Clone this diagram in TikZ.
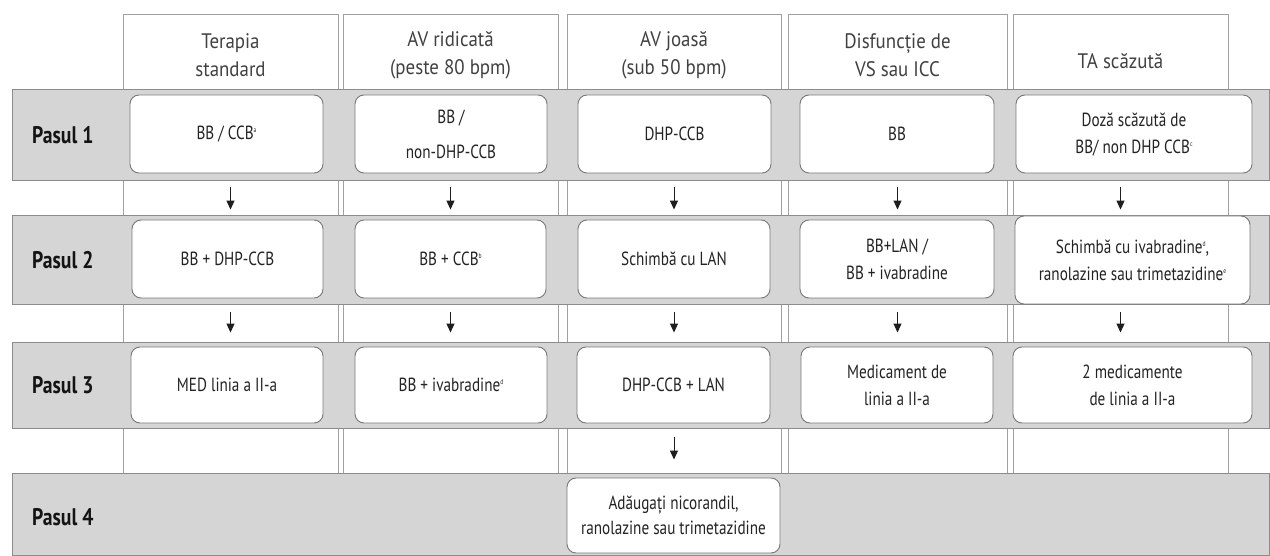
\documentclass[tikz,border=0pt]{standalone}
\usepackage{fontspec}
\setmainfont{PT Sans}
\newfontfamily\boxfont[FakeStretch=0.8]{PT Sans}
\newfontfamily\headfont[FakeStretch=0.9]{PT Sans}
\newfontfamily\stepfont[FakeStretch=0.82]{PT Sans}
\usetikzlibrary{arrows.meta}
\definecolor{bandfill}{RGB}{213,213,213}
\definecolor{bandline}{RGB}{140,140,140}
\definecolor{colline}{RGB}{160,160,160}
\definecolor{boxline}{RGB}{120,120,120}
\definecolor{boxtext}{RGB}{35,35,35}
\definecolor{headtxt}{RGB}{65,65,65}
\definecolor{steptxt}{RGB}{20,20,20}
\definecolor{arrowcol}{RGB}{30,30,30}
\newcommand\fnm[1]{\raisebox{0.7ex}{\fontsize{7}{7}\selectfont #1}}
\begin{document}
\begin{tikzpicture}[x=1pt,y=-1pt,
  colbox/.style={draw=colline, fill=white, line width=0.8pt, minimum height=459pt, inner sep=0pt},
  band/.style={draw=bandline, fill=bandfill, line width=0.8pt, inner sep=0pt, minimum width=1257pt},
  stepbox/.style={draw=boxline, fill=white, rounded corners=9pt, line width=0.9pt, inner sep=0pt, align=center, font=\boxfont\fontsize{19}{27}\selectfont, text=boxtext},
  headtext/.style={align=center, inner sep=0pt, font=\headfont\fontsize{21}{28}\selectfont, text=headtxt},
  steplabel/.style={anchor=west, inner sep=0pt, font=\stepfont\bfseries\fontsize{24}{28}\selectfont, text=steptxt},
  arr/.style={-{Triangle[width=8pt,length=9pt]}, line width=1pt, draw=arrowcol}]
\useasboundingbox (0,0) rectangle (1270,556);
% columns
\node[colbox, minimum width=215pt] (col1) at (230.5,243.5) {};
\node[colbox, minimum width=215pt] (col2) at (450.5,243.5) {};
\node[colbox, minimum width=214pt] (col3) at (674,243.5) {};
\node[colbox, minimum width=219pt] (col4) at (897.5,243.5) {};
\node[colbox, minimum width=215pt] (col5) at (1120.5,243.5) {};
% headers
\node[headtext] (h1) at (230.5,55) {Terapia\\standard};
\node[headtext] (h2) at (450.5,55) {AV ridicată\\(peste 80 bpm)};
\node[headtext] (h3) at (674,55) {AV joasă\\(sub 50 bpm)};
\node[headtext] (h4) at (897.5,55) {Disfuncție de\\VS sau ICC};
\node[headtext] (h5) at (1120.5,61) {TA scăzută};
% bands
\node[band, minimum height=91pt] (band1) at (640.5,134.5) {};
\node[band, minimum height=89pt] (band2) at (640.5,259.5) {};
\node[band, minimum height=86pt] (band3) at (640.5,385) {};
\node[band, minimum height=82pt] (band4) at (640.5,514) {};
% step labels
\node[steplabel] (s1) at (32,135) {Pasul 1};
\node[steplabel] (s2) at (32,260) {Pasul 2};
\node[steplabel] (s3) at (32,385) {Pasul 3};
\node[steplabel] (s4) at (32,517) {Pasul 4};
% step 1
\node[stepbox, minimum width=193pt, minimum height=78pt] (p1c1) at (226.5,134) {BB / CCB\fnm{a}};
\node[stepbox, minimum width=192pt, minimum height=78pt] (p1c2) at (451,134) {BB /\\[8pt]non-DHP-CCB};
\node[stepbox, minimum width=193pt, minimum height=78pt] (p1c3) at (674.5,134) {DHP-CCB};
\node[stepbox, minimum width=194pt, minimum height=78pt] (p1c4) at (897,134) {BB};
\node[stepbox, minimum width=236pt, minimum height=78pt] (p1c5) at (1134,134) {Doză scăzută de\\BB/ non DHP CCB\fnm{c}};
% step 2
\node[stepbox, minimum width=191pt, minimum height=78pt] (p2c1) at (227.5,259) {BB + DHP-CCB};
\node[stepbox, minimum width=191pt, minimum height=78pt] (p2c2) at (450.5,259) {BB + CCB\fnm{b}};
\node[stepbox, minimum width=192pt, minimum height=78pt] (p2c3) at (674,259) {Schimbă cu LAN};
\node[stepbox, minimum width=194pt, minimum height=78pt] (p2c4) at (897,259) {BB+LAN /\\BB + ivabradine};
\node[stepbox, minimum width=235pt, minimum height=88pt] (p2c5) at (1132.5,260) {Schimbă cu ivabradine\fnm{d},\\ranolazine sau trimetazidine\fnm{e}};
% step 3
\node[stepbox, minimum width=192pt, minimum height=76pt] (p3c1) at (227,385) {MED linia a II-a};
\node[stepbox, minimum width=192pt, minimum height=76pt] (p3c2) at (451,385) {BB + ivabradine\fnm{d}};
\node[stepbox, minimum width=193pt, minimum height=76pt] (p3c3) at (673.5,385) {DHP-CCB + LAN};
\node[stepbox, minimum width=192pt, minimum height=76pt] (p3c4) at (897,385) {Medicament de\\linia a II-a};
\node[stepbox, minimum width=239pt, minimum height=76pt] (p3c5) at (1132.5,385) {2 medicamente\\de linia a II-a};
% step 4
\node[stepbox, minimum width=213pt, minimum height=75pt, font=\boxfont\fontsize{19}{25}\selectfont] (p4c3) at (673.5,515.5) {Adăugați nicorandil,\\ranolazine sau trimetazidine};
% arrows
\foreach \i in {1,2,3,4} {
  \draw[arr, shorten <=14pt, shorten >=10pt] (p1c\i.south -| col\i.north) -- (p2c\i.north -| col\i.north);
  \draw[arr, shorten <=14pt, shorten >=14pt] (p2c\i.south -| col\i.north) -- (p3c\i.north -| col\i.north);
}
\draw[arr, shorten <=14pt, shorten >=6pt] (p1c5.south -| col5.north) -- (p2c5.north -| col5.north);
\draw[arr, shorten <=8pt, shorten >=14pt] (p2c5.south -| col5.north) -- (p3c5.north -| col5.north);
\draw[arr, shorten <=14pt, shorten >=18pt] (p3c3.south -| col3.north) -- (p4c3.north -| col3.north);
\end{tikzpicture}
\end{document}
